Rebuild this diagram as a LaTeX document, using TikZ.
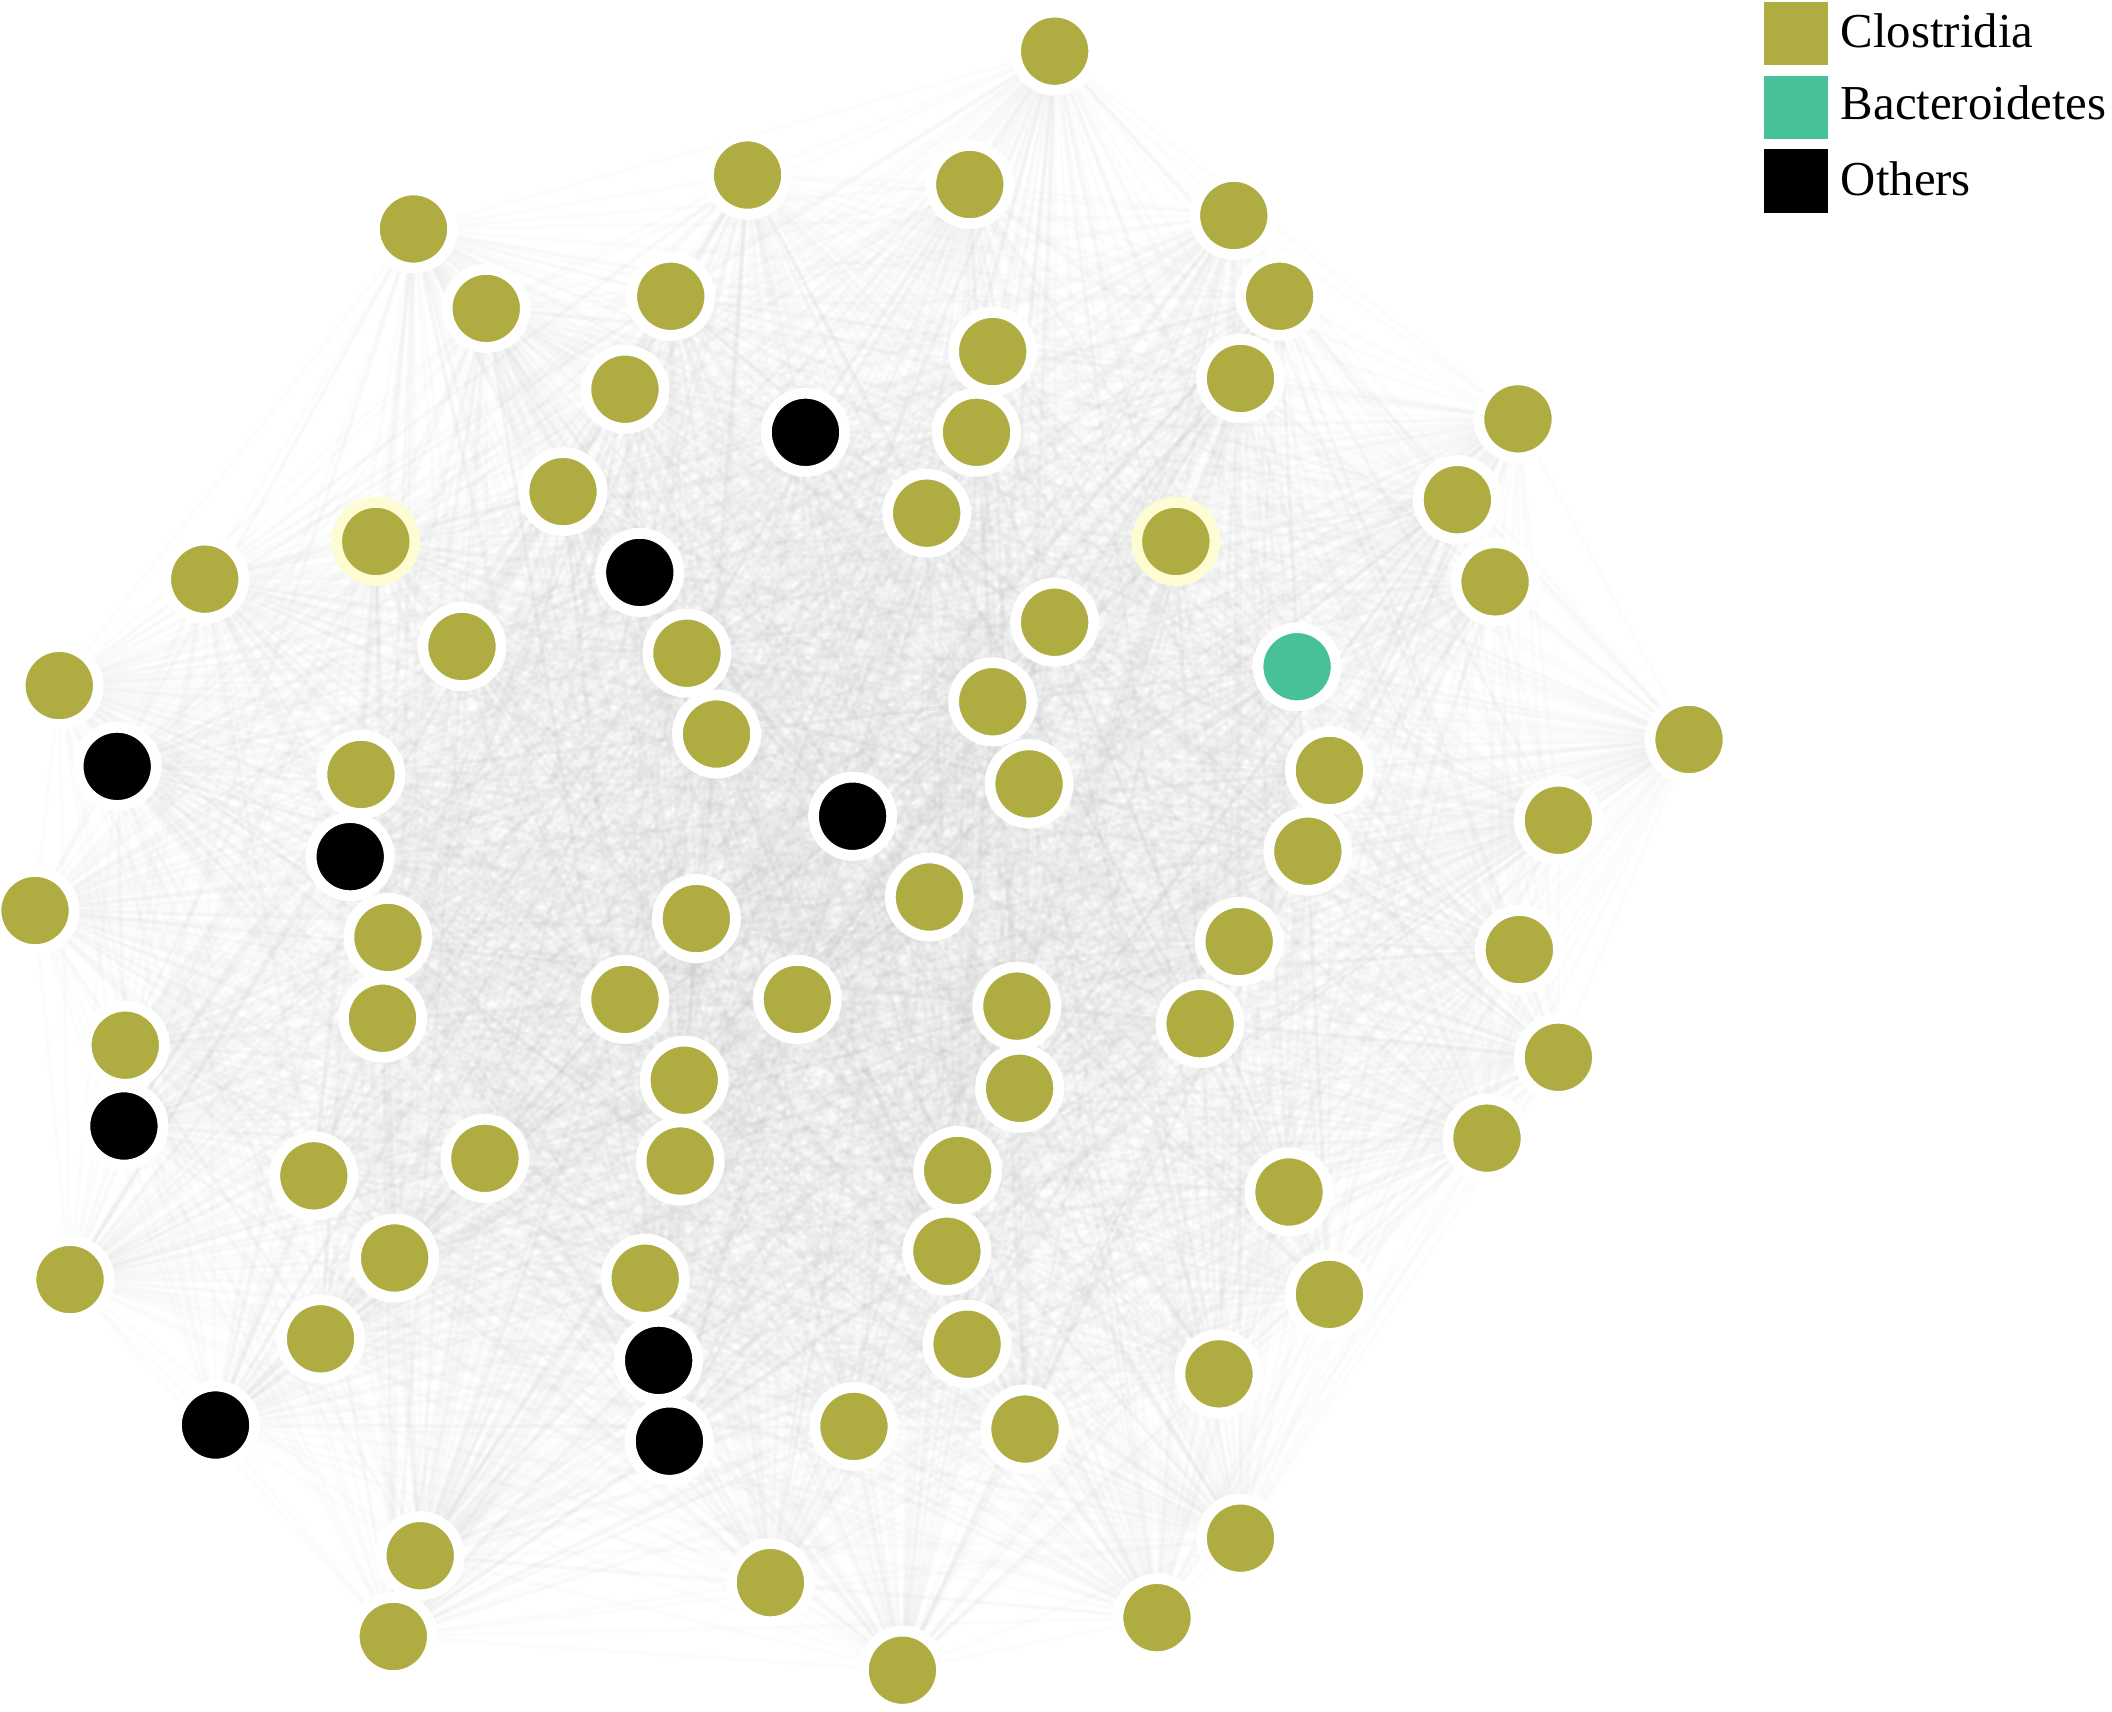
\documentclass[tikz,border=0pt]{standalone}
\usepackage{fontspec}
\setmainfont{Liberation Serif}
\usepackage{tikz}
\usetikzlibrary{shapes.geometric,backgrounds,positioning}
\definecolor{clostridia}{HTML}{AFAD41}
\definecolor{bacteroidetes}{HTML}{47C198}
\definecolor{others}{HTML}{000000}
\definecolor{halo}{HTML}{FDFCD2}
\tikzstyle{vertex}=[draw=white,circle,line width=0.08cm,minimum size=0.58cm,inner sep=0pt,outer sep=0pt]
\tikzstyle{hub}=[draw=halo,circle,line width=0.08cm,minimum size=0.58cm,inner sep=0pt,outer sep=0pt]
\tikzstyle{legbox}=[minimum size=0.47cm,inner sep=0pt,outer sep=0pt]

\begin{document}
\begin{tikzpicture}[x=0.01cm,y=-0.01cm,
every edge/.style = {draw, gray!70, line width=0.8pt, opacity=0.035}]
\useasboundingbox (0,0) rectangle (1568,1271);
% nodes: x/y/class
\foreach \x/\y/\c [count=\i] in {
 783/38/clostridia, 555/130/clostridia, 720/137/clostridia, 307/170/clostridia,
 916/160/clostridia, 361/229/clostridia, 498/220/clostridia, 950/220/clostridia,
 737/261/clostridia, 921/281/clostridia, 464/289/clostridia, 598/321/others,
 725/321/clostridia, 1127/311/clostridia, 418/365/clostridia, 688/381/clostridia,
 1082/371/clostridia, 152/430/clostridia, 475/425/others,
 1110/432/clostridia, 343/480/clostridia, 510/485/clostridia, 783/462/clostridia,
 963/495/bacteroidetes, 44/509/clostridia, 737/521/clostridia, 532/545/clostridia,
 1254/549/clostridia, 87/569/others, 268/575/clostridia, 764/582/clostridia,
 987/572/clostridia, 633/606/others, 1157/609/clostridia, 260/636/others,
 971/632/clostridia, 26/676/clostridia, 690/666/clostridia, 517/682/clostridia,
 288/696/clostridia, 920/699/clostridia, 1128/705/clostridia, 464/742/clostridia,
 592/742/clostridia, 284/756/clostridia, 755/747/clostridia, 891/760/clostridia,
 93/776/clostridia, 1157/785/clostridia, 508/802/clostridia, 757/808/clostridia,
 92/836/others, 1104/845/clostridia, 360/860/clostridia, 233/873/clostridia,
 505/862/clostridia, 711/869/clostridia, 957/885/clostridia, 293/934/clostridia,
 703/929/clostridia, 52/950/clostridia, 479/949/clostridia, 987/961/clostridia,
 238/994/clostridia, 718/998/clostridia, 489/1010/others, 905/1020/clostridia,
 160/1058/others, 497/1070/others, 634/1059/clostridia, 761/1061/clostridia,
 921/1142/clostridia, 312/1155/clostridia, 572/1175/clostridia, 859/1201/clostridia,
 292/1215/clostridia, 670/1240/clostridia}
  \node [vertex, fill=\c] (n\i) at (\x,\y) {};
% the two highlighted taxa
\node [hub, fill=clostridia] (h1) at (279,402) {};
\node [hub, fill=clostridia] (h2) at (873,402) {};

% co-occurrence edges, all pairs, behind the nodes
\begin{pgfonlayer}{background}
\foreach \i in {1,...,77} {
    \foreach \j in {\i,...,77} {
        \ifnum\j>\i \path (n\i) edge (n\j); \fi
    }
    \path (n\i) edge (h1) (n\i) edge (h2);
}
\path (h1) edge (h2);
\end{pgfonlayer}

% legend
\node [legbox, fill=clostridia] (lc) at (1333.5,25) {};
\node [legbox, fill=bacteroidetes] (lb) at (1333.5,80) {};
\node [legbox, fill=others] (lo) at (1333.5,134.5) {};
\node [anchor=base west, inner sep=0pt, font=\fontsize{10.3}{12}\selectfont] (tc) at (1366,35) {Clostridia};
\node [anchor=base west, inner sep=0pt, font=\fontsize{10.3}{12}\selectfont] (tb) at (1366,89) {Bacteroidetes};
\node [anchor=base west, inner sep=0pt, font=\fontsize{10.3}{12}\selectfont] (to) at (1366,145) {Others};
\end{tikzpicture}
\end{document}
